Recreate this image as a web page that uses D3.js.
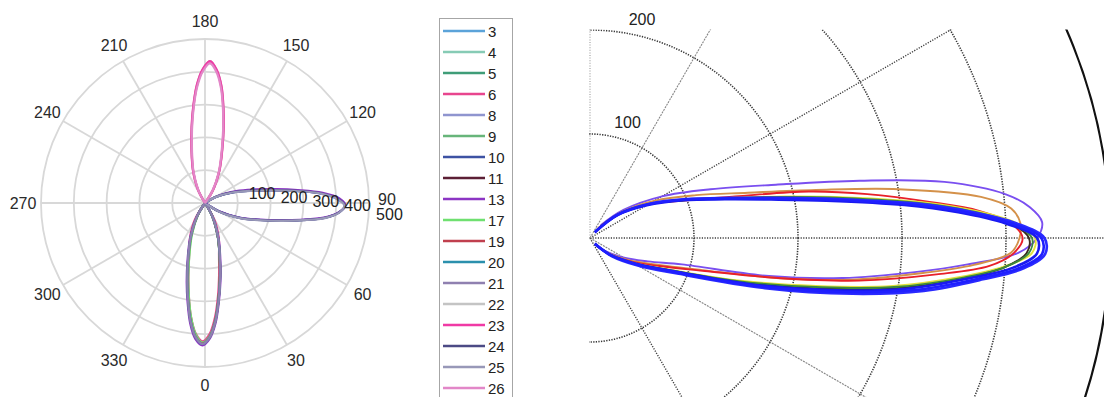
<!DOCTYPE html>
<html>
<head>
<meta charset="utf-8">
<script src="https://cdn.jsdelivr.net/npm/d3@7"></script>
<style>
  html, body { margin: 0; padding: 0; background: #fff; }
  svg { display: block; font-family: "Liberation Sans", Arial, Helvetica, sans-serif; }
</style>
</head>
<body>
<svg id="chart" width="1104" height="397"></svg>
<script>
// ---------------- data ----------------
// legend entries and their line colours
const seriesNames  = ["3","4","5","6","8","9","10","11","13","17","19","20","21","22","23","24","25","26"];
const seriesColors = ["#5ba3d9","#86cbb5","#3f9d78","#e8458e","#8f95cf","#67b57a","#3d52a3","#5c1f35","#8c35c4",
                      "#6fe070","#c0404e","#2b90ad","#8f80b0","#c4c4c4","#f03aa5","#4c4a85","#9898b8","#e287c8"];

// left polar chart: ring values and angle tick labels (degrees)
const ringValues  = [100, 200, 300, 400, 500];
const angleTicks  = [0, 30, 60, 90, 120, 150, 180, 210, 240, 270, 300, 330];

// every lobe is sampled at these angular offsets (deg) from its axis
const lobeOffsets = [-40,-30,-22,-16,-12,-9,-6,-3,0,3,6,9,12,16,22,30,40];

// lobe pointing to ~178 deg
const upLobeAxis   = 178;
const upLobeSeries = ["6","22","23","26"];
const upLobeRadii  = [
  [0,44,106,168,232,292,357,406,430,406,357,292,232,168,106,44,0],
  [0,45,108,170,235,295,360,408,433,408,360,295,235,170,108,45,0],
  [0,45,108,170,235,295,360,408,433,408,360,295,235,170,108,45,0],
  [0,42,103,164,228,288,352,401,426,401,352,288,228,164,103,42,0]
];

// lobe pointing to ~89 deg
const rightLobeAxis   = 89;
const rightLobeSeries = ["8","10","13","24","25"];
const rightLobeRadii  = [
  [0,50,116,176,238,298,368,409,426,401,348,268,203,143,90,38,0],
  [0,51,117,177,239,299,369,410,427,402,349,269,204,144,91,39,0],
  [0,48,113,172,234,295,365,408,428,410,360,285,222,160,102,44,0],
  [0,52,118,178,240,300,370,410,427,402,350,270,205,145,92,40,0],
  [0,53,120,180,242,302,371,411,425,400,347,267,202,142,89,37,0]
];

// lobe pointing to ~359 deg
const downLobeAxis   = 359;
const downLobeSeries = ["3","4","5","6","9","11","13","17","19","20","21"];
const downLobeRadii  = [
  [0,44,108,173,238,296,360,409,429,409,360,296,238,173,108,44,0],
  [0,45,109,174,239,297,361,409,429,409,361,297,239,174,109,45,0],
  [0,45,110,175,240,298,362,410,430,410,362,298,240,175,110,45,0],
  [0,62,118,165,225,285,350,400,422,400,350,285,225,165,118,62,0],
  [0,42,104,167,232,290,355,405,427,407,360,296,238,173,108,44,0],
  [0,44,108,173,238,296,360,409,429,409,360,296,238,173,108,44,0],
  [0,48,116,182,248,306,370,416,434,414,368,304,246,181,115,47,0],
  [0,40,100,162,226,285,350,402,426,407,360,296,238,173,108,44,0],
  [0,45,109,174,239,297,361,409,429,409,361,297,239,174,109,45,0],
  [0,45,110,175,240,298,362,410,430,410,362,298,240,175,110,45,0],
  [0,46,111,176,241,299,363,410,430,410,363,299,241,176,111,46,0]
];

// right zoomed polar chart: ring labels and traces sampled at these angles (deg)
const zoomRingValues = [100, 200, 300, 400];
const zoomSpokes     = [-60, -30, 0, 30, 60, 90];
const zoomAngles     = [-50,-40,-30,-22,-16,-12,-9,-6,-4,-2,0,2,4,6,9,12,16,22,30,40,50];
const zoomColors     = ["#7a4ff0","#d4914a","#e8202a","#e2e23c","#3a2a1c","#3c8a3c","#2a2aff","#1a1af0","#1f1fff"];
const zoomRadii      = [
  [8,20,38,60,92,176,246,314,364,412,430,435,424,402,345,265,186,125,80,42,16],   // violet
  [8,22,42,68,112,186,256,322,370,405,413,414,406,378,300,222,158,110,72,38,13],  // orange
  [8,24,45,72,115,185,262,335,385,408,416,405,375,330,270,215,145,96,65,35,12],   // red
  [8,24,48,80,148,222,295,358,398,425,428,410,372,325,250,192,140,98,66,36,10],   // yellow
  [8,25,50,84,158,235,305,365,400,420,422,405,365,315,242,188,138,97,65,35,9],    // dark brown
  [8,25,49,82,152,228,300,362,400,422,425,406,368,320,246,190,139,97,65,35,9],    // green
  [8,27,53,92,175,258,325,380,418,438,437,410,366,316,240,186,140,100,66,36,8],   // blue
  [7,24,48,84,162,242,310,368,408,430,430,400,355,304,230,178,135,97,63,34,7],    // blue
  [8,25,50,87,168,250,318,375,414,435,434,405,360,310,235,182,138,99,65,35,8]     // blue
];

// ---------------- drawing ----------------
const svg = d3.select("#chart");
const rad = d => d * Math.PI / 180;
const colorOf = d3.scaleOrdinal().domain(seriesNames).range(seriesColors);

// ===== left polar chart (0 at bottom, 90 at right) =====
const leftCx = 205, leftCy = 203, leftR = 164;
const rLeft = d3.scaleLinear().domain([0, 500]).range([0, leftR]);
const gL = svg.append("g").attr("transform", `translate(${leftCx},${leftCy})`);

const gridColor = "#d8d8d8";
gL.selectAll("line.spoke").data(angleTicks).join("line")
  .attr("class", "spoke")
  .attr("x1", 0).attr("y1", 0)
  .attr("x2", d => rLeft(500) * Math.sin(rad(d)))
  .attr("y2", d => rLeft(500) * Math.cos(rad(d)))
  .attr("stroke", gridColor).attr("stroke-width", 1.8);

gL.selectAll("circle.ring").data(ringValues).join("circle")
  .attr("class", "ring")
  .attr("r", d => rLeft(d))
  .attr("fill", "none").attr("stroke", gridColor).attr("stroke-width", 1.8);

gL.selectAll("text.ang").data(angleTicks).join("text")
  .attr("class", "ang")
  .attr("x", d => (rLeft(500) + 18) * Math.sin(rad(d)))
  .attr("y", d => (rLeft(500) + 18) * Math.cos(rad(d)) - (d === 90 ? 4 : 0))
  .attr("text-anchor", "middle").attr("dominant-baseline", "central")
  .attr("font-size", 16).attr("fill", "#2a2a2a")
  .text(d => d);

const radial = d3.lineRadial()
  .angle(d => Math.PI - rad(d[0]))
  .radius(d => rLeft(d[1]))
  .curve(d3.curveCatmullRom.alpha(0.5));

// collect lobes and draw them in legend order
const lobes = [];
const addLobes = (names, axis, radii) => names.forEach((n, i) =>
  lobes.push({ name: n, pts: lobeOffsets.map((o, j) => [axis + o, radii[i][j]]) }));
addLobes(upLobeSeries, upLobeAxis, upLobeRadii);
addLobes(rightLobeSeries, rightLobeAxis, rightLobeRadii);
addLobes(downLobeSeries, downLobeAxis, downLobeRadii);
lobes.sort((a, b) => seriesNames.indexOf(a.name) - seriesNames.indexOf(b.name));

gL.selectAll("path.lobe").data(lobes).join("path")
  .attr("class", "lobe")
  .attr("d", d => radial(d.pts))
  .attr("fill", "none")
  .attr("stroke", d => colorOf(d.name))
  .attr("stroke-width", 2.2)
  .attr("stroke-linejoin", "round");

// ring value labels beside the 90 deg spoke
gL.selectAll("text.rv").data(ringValues).join("text")
  .attr("class", "rv")
  .attr("x", d => rLeft(d) * 0.97 + 12)
  .attr("y", d => -14 + d * 0.04 + (d === 500 ? 5 : 0))
  .attr("dominant-baseline", "central")
  .attr("font-size", 16).attr("fill", "#222")
  .text(d => d);

// ===== legend =====
const legX = 439, legY = 18, legRow = 21;
const gLeg = svg.append("g");
gLeg.append("rect")
  .attr("x", legX + 0.5).attr("y", legY + 0.5)
  .attr("width", 73).attr("height", 400)
  .attr("fill", "#fff").attr("stroke", "#a6a6a6").attr("stroke-width", 1);
const legItems = gLeg.selectAll("g.item").data(seriesNames).join("g")
  .attr("class", "item")
  .attr("transform", (d, i) => `translate(${legX}, ${legY + 13 + i * legRow})`);
legItems.append("line")
  .attr("x1", 4).attr("x2", 46).attr("y1", 0).attr("y2", 0)
  .attr("stroke", d => colorOf(d)).attr("stroke-width", 2.5);
legItems.append("text")
  .attr("x", 49).attr("y", 0)
  .attr("dominant-baseline", "central")
  .attr("font-size", 15).attr("fill", "#222")
  .text(d => d);

// ===== right zoomed polar chart =====
const zoomCx = 590, zoomCy = 238, zoomUnit = 1.04;
const xZ = d3.scaleLinear().domain([0, 500]).range([zoomCx, zoomCx + 500 * zoomUnit]);
const yZ = d3.scaleLinear().domain([0, 500]).range([zoomCy, zoomCy - 500 * zoomUnit]);

svg.append("defs").append("clipPath").attr("id", "zoomClip")
  .append("rect").attr("x", zoomCx - 1).attr("y", 29.5).attr("width", 1104 - zoomCx + 1).attr("height", 400);
const gR = svg.append("g").attr("clip-path", "url(#zoomClip)");

const spokeStyle = a => (a === 60 || a === -30)
  ? { c: "#858585", w: 1.1, dash: "2,1" }
  : (a === 90 ? { c: "#9a9a9a", w: 1.1, dash: "1,1.6" } : { c: "#3d3d3d", w: 1.4, dash: "1.2,1.4" });

gR.selectAll("line.zspoke").data(zoomSpokes).join("line")
  .attr("class", "zspoke")
  .attr("x1", xZ(0)).attr("y1", yZ(0))
  .attr("x2", d => xZ(520 * Math.cos(rad(d))))
  .attr("y2", d => yZ(520 * Math.sin(rad(d))))
  .attr("stroke", d => spokeStyle(d).c)
  .attr("stroke-width", d => spokeStyle(d).w)
  .attr("stroke-dasharray", d => spokeStyle(d).dash);

gR.selectAll("circle.zring").data(zoomRingValues).join("circle")
  .attr("class", "zring")
  .attr("cx", xZ(0)).attr("cy", yZ(0))
  .attr("r", d => xZ(d) - xZ(0))
  .attr("fill", "none").attr("stroke", "#3a3a3a")
  .attr("stroke-width", 1.6).attr("stroke-dasharray", "1.3,1.3");

gR.append("circle")
  .attr("cx", xZ(0)).attr("cy", yZ(0))
  .attr("r", xZ(500) - xZ(0))
  .attr("fill", "none").attr("stroke", "#111").attr("stroke-width", 2.2);

const zoomLine = d3.line()
  .x(d => xZ(d[1] * Math.cos(rad(d[0]))))
  .y(d => yZ(d[1] * Math.sin(rad(d[0]))))
  .curve(d3.curveCatmullRom.alpha(0.5));

gR.selectAll("path.trace").data(zoomRadii).join("path")
  .attr("class", "trace")
  .attr("d", r => zoomLine(zoomAngles.map((a, j) => [a, r[j]])))
  .attr("fill", "none")
  .attr("stroke", (r, i) => zoomColors[i])
  .attr("stroke-width", (r, i) => i >= 6 ? 2.6 : 1.9)
  .attr("stroke-linejoin", "round");

// ring labels at 82 deg, offset by a twentieth of the ring step
svg.selectAll("text.zlab").data([100, 200]).join("text")
  .attr("class", "zlab")
  .attr("x", d => xZ((d + 5) * Math.cos(rad(82))) + 9)
  .attr("y", d => yZ((d + 5) * Math.sin(rad(82))) - 2)
  .attr("font-size", 16).attr("fill", "#222")
  .text(d => d);
</script>
</body>
</html>
